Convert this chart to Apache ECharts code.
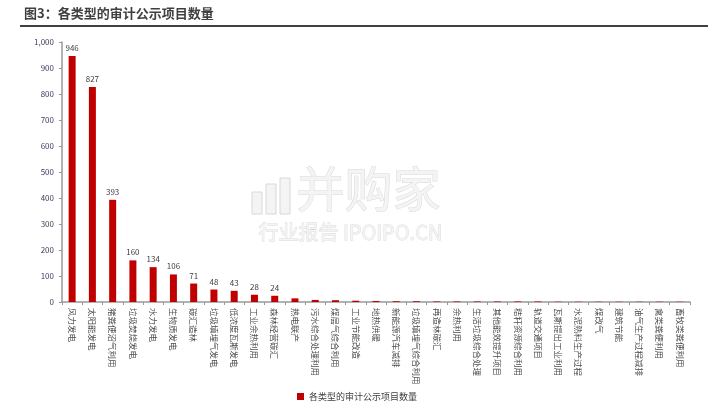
<!DOCTYPE html>
<html><head><meta charset="utf-8">
<script src="https://cdn.jsdelivr.net/npm/echarts@6/dist/echarts.min.js"></script>
<style>html,body{margin:0;padding:0;background:#fff}#c{width:714px;height:407px}</style>
</head><body><div id="c"></div>
<script>
var categories = ['风力发电','太阳能发电','猪粪便沼气利用','垃圾焚烧发电','水力发电','生物质发电','碳汇造林','垃圾填埋气发电','低浓度瓦斯发电','工业余热利用','森林经营碳汇','热电联产','污水综合处理利用','煤层气综合利用','工业节能改造','地热供暖','新能源汽车减排','垃圾填埋气综合利用','再造林碳汇','余热利用','生活垃圾综合处理','其他能效提升项目','秸秆资源综合利用','轨道交通项目','瓦斯提出工业利用','水泥熟料生产过程','煤改气','建筑节能','油气生产过程减排','禽类粪便利用','畜牧类粪便利用'];
var values = [946,827,393,160,134,106,71,48,43,28,24,14,8,7,5,4,3,3,2,2,2,2,2,2,1,1,1,1,1,1,1];
var labelled = 11;
var seriesName = '各类型的审计公示项目数量';
var titleText = '图3：各类型的审计公示项目数量';

var chart = echarts.init(document.getElementById('c'));
var font = '"Noto Sans CJK SC", sans-serif';
chart.setOption({
  animation: false,
  textStyle: {fontFamily: font},
  graphic: [
    {type: 'text', left: 24, top: 7, style: {text: titleText, font: 'bold 13px ' + font, fill: '#404040'}},
    {type: 'line', shape: {x1: 20, y1: 26, x2: 708, y2: 26}, style: {stroke: '#000', lineWidth: 1.5}},
    {type: 'rect', shape: {x: 252, y: 192, width: 10, height: 22}, z: 0, style: {fill: '#f4f4f4', stroke: '#d8d8d8', lineWidth: 1}},
    {type: 'rect', shape: {x: 266, y: 184, width: 10, height: 30}, z: 0, style: {fill: '#f4f4f4', stroke: '#d8d8d8', lineWidth: 1}},
    {type: 'rect', shape: {x: 280, y: 178, width: 10, height: 36}, z: 0, style: {fill: '#f4f4f4', stroke: '#d8d8d8', lineWidth: 1}},
    {type: 'text', left: 296, top: 164, z: 0, style: {text: '并购家', font: '48px ' + font, fill: '#f4f4f4', stroke: '#d8d8d8', lineWidth: 1}},
    {type: 'text', left: 258, top: 222, z: 0, style: {text: '行业报告 IPOIPO.CN', font: '20px ' + font, fill: '#f4f4f4', stroke: '#d8d8d8', lineWidth: 0.8}}
  ],
  legend: {
    bottom: 1, left: 'center', itemWidth: 7, itemHeight: 7, itemGap: 4,
    icon: 'rect',
    textStyle: {fontSize: 9, color: '#404040', fontFamily: font},
    data: [seriesName]
  },
  grid: {left: 62, right: 24, top: 42, bottom: 105, containLabel: false},
  xAxis: {
    type: 'category', data: categories,
    axisLine: {lineStyle: {color: '#999', width: 1.5}},
    axisTick: {show: true, alignWithLabel: false, length: 3, lineStyle: {color: '#999'}},
    axisLabel: {rotate: -90, interval: 0, fontSize: 8.5, color: '#505050', margin: 6, fontFamily: font}
  },
  yAxis: {
    type: 'value', min: 0, max: 1000, interval: 100,
    axisLine: {show: true, lineStyle: {color: '#999', width: 1.5}},
    axisTick: {show: true, length: 3, lineStyle: {color: '#999'}},
    splitLine: {show: false},
    axisLabel: {fontSize: 8, color: '#404060', margin: 8, fontFamily: font,
      formatter: function (v) { return v.toLocaleString('en-US'); }}
  },
  series: [{
    name: seriesName, type: 'bar', barWidth: 7,
    itemStyle: {color: '#c00000'},
    data: values.map(function (v, i) {
      return {value: v, label: {show: i < labelled}};
    }),
    label: {position: 'top', fontSize: 8, color: '#404040', distance: 4, fontFamily: font}
  }]
});
</script></body></html>
